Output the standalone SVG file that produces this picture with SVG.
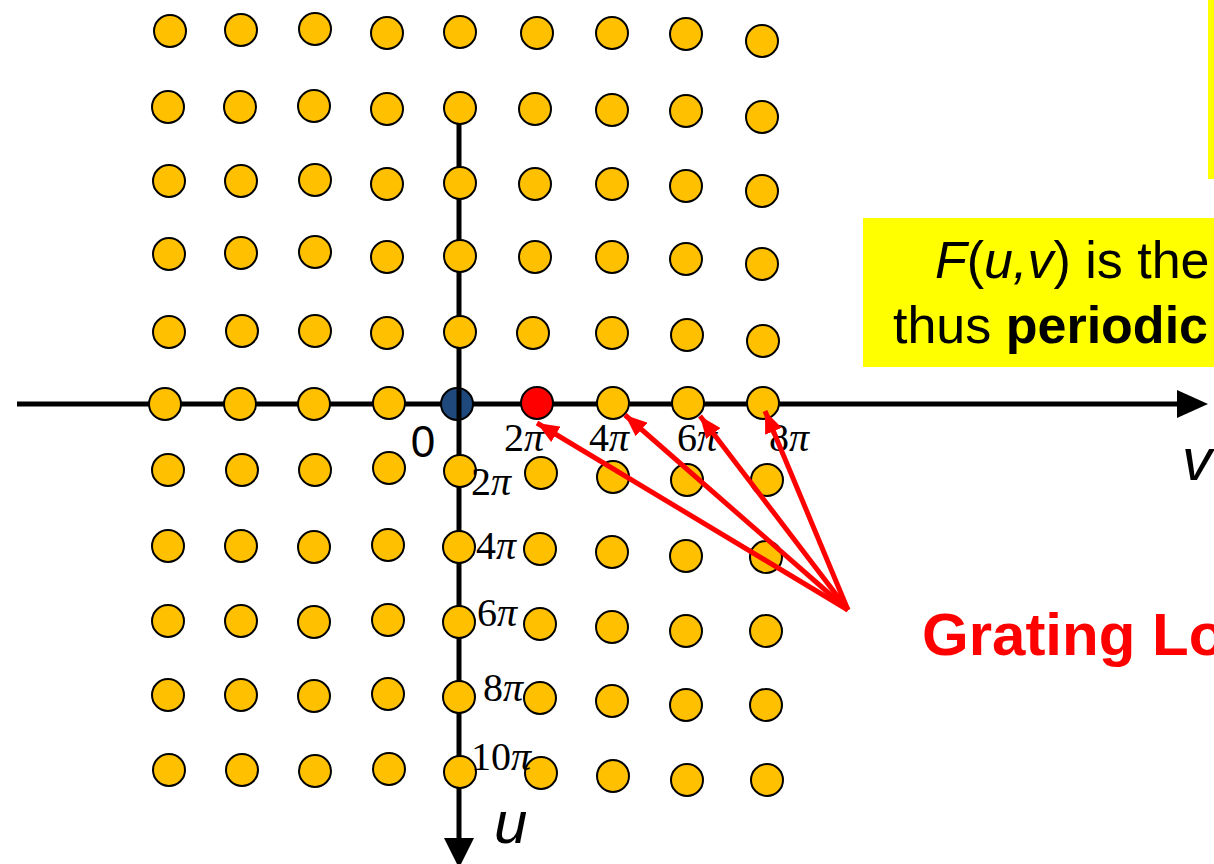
<svg xmlns="http://www.w3.org/2000/svg" width="1214" height="864" viewBox="0 0 1214 864">
<style>
.dot{fill:#FFC000;stroke:#000;stroke-width:2}
.axis{stroke:#000;stroke-width:5;fill:none}
.lbl{font-family:"Liberation Serif",serif;font-size:40px;fill:#000}
.ptr{stroke:#FF0000;stroke-width:5;fill:none}
.sans{font-family:"Liberation Sans",Arial,sans-serif;fill:#000}
</style>
<defs>
<marker id="redhead" markerUnits="userSpaceOnUse" markerWidth="24" markerHeight="18" refX="22" refY="9" orient="auto">
<path d="M0,0 L22,9 L0,18 Z" fill="#FF0000"/>
</marker>
</defs>
<rect width="1214" height="864" fill="#FFFFFF"/>
<g id="note-top"><rect x="1208" y="-5" width="20" height="184" fill="#FFFF00"/></g>
<g id="note-periodic">
<rect x="863" y="218" width="360" height="149" fill="#FFFF00"/>
<text class="sans" x="935" y="278" font-size="52"><tspan font-style="italic">F</tspan>(<tspan font-style="italic">u,v</tspan>) is the</text>
<text class="sans" x="893" y="343" font-size="52">thus <tspan font-weight="bold">periodic</tspan></text>
</g>
<g id="axis-v">
<line class="axis" x1="17" y1="404" x2="1180" y2="404"/>
<path d="M1177,390 L1208,404 L1177,418 Z" fill="#000"/>
</g>
<g id="origin"><circle cx="457" cy="404" r="16" fill="#1F497D" stroke="#000" stroke-width="2"/></g>
<g id="axis-u">
<line class="axis" x1="459" y1="122" x2="459" y2="842"/>
<path d="M444,838 L459,868 L474,838 Z" fill="#000"/>
</g>
<g id="lattice">
<g id="row1">
<circle class="dot" cx="170" cy="31" r="16"/><circle class="dot" cx="241" cy="30" r="16"/><circle class="dot" cx="315" cy="29" r="16"/><circle class="dot" cx="387" cy="33" r="16"/><circle class="dot" cx="460" cy="32" r="16"/><circle class="dot" cx="537" cy="33" r="16"/><circle class="dot" cx="612" cy="33" r="16"/><circle class="dot" cx="686" cy="34" r="16"/><circle class="dot" cx="762" cy="41" r="16"/>
</g>
<g id="row2">
<circle class="dot" cx="168" cy="107" r="16"/><circle class="dot" cx="240" cy="107" r="16"/><circle class="dot" cx="314" cy="106" r="16"/><circle class="dot" cx="387" cy="109" r="16"/><circle class="dot" cx="460" cy="108" r="16"/><circle class="dot" cx="535" cy="109" r="16"/><circle class="dot" cx="612" cy="110" r="16"/><circle class="dot" cx="686" cy="111" r="16"/><circle class="dot" cx="762" cy="117" r="16"/>
</g>
<g id="row3">
<circle class="dot" cx="169" cy="181" r="16"/><circle class="dot" cx="241" cy="181" r="16"/><circle class="dot" cx="315" cy="180" r="16"/><circle class="dot" cx="387" cy="184" r="16"/><circle class="dot" cx="460" cy="183" r="16"/><circle class="dot" cx="535" cy="184" r="16"/><circle class="dot" cx="612" cy="184" r="16"/><circle class="dot" cx="686" cy="186" r="16"/><circle class="dot" cx="762" cy="191" r="16"/>
</g>
<g id="row4">
<circle class="dot" cx="169" cy="254" r="16"/><circle class="dot" cx="241" cy="253" r="16"/><circle class="dot" cx="315" cy="252" r="16"/><circle class="dot" cx="387" cy="257" r="16"/><circle class="dot" cx="460" cy="256" r="16"/><circle class="dot" cx="535" cy="257" r="16"/><circle class="dot" cx="612" cy="257" r="16"/><circle class="dot" cx="686" cy="259" r="16"/><circle class="dot" cx="762" cy="264" r="16"/>
</g>
<g id="row5">
<circle class="dot" cx="169" cy="332" r="16"/><circle class="dot" cx="242" cy="331" r="16"/><circle class="dot" cx="315" cy="331" r="16"/><circle class="dot" cx="387" cy="333" r="16"/><circle class="dot" cx="460" cy="332" r="16"/><circle class="dot" cx="533" cy="333" r="16"/><circle class="dot" cx="612" cy="333" r="16"/><circle class="dot" cx="687" cy="335" r="16"/><circle class="dot" cx="763" cy="341" r="16"/>
</g>
<g id="row-axis">
<circle class="dot" cx="165" cy="404" r="16"/><circle class="dot" cx="240" cy="404" r="16"/><circle class="dot" cx="314" cy="404" r="16"/><circle class="dot" cx="389" cy="403" r="16"/><circle cx="537" cy="403" r="16" fill="#FF0000" stroke="#000" stroke-width="2"/><circle class="dot" cx="613" cy="403" r="16"/><circle class="dot" cx="688" cy="403" r="16"/><circle class="dot" cx="763" cy="403" r="16"/>
</g>
<g id="row7">
<circle class="dot" cx="168" cy="470" r="16"/><circle class="dot" cx="242" cy="470" r="16"/><circle class="dot" cx="315" cy="470" r="16"/><circle class="dot" cx="389" cy="468" r="16"/><circle class="dot" cx="460" cy="471" r="16"/><circle class="dot" cx="541" cy="473" r="16"/><circle class="dot" cx="613" cy="477" r="16"/><circle class="dot" cx="687" cy="480" r="16"/><circle class="dot" cx="767" cy="480" r="16"/>
</g>
<g id="row8">
<circle class="dot" cx="168" cy="546" r="16"/><circle class="dot" cx="241" cy="546" r="16"/><circle class="dot" cx="314" cy="547" r="16"/><circle class="dot" cx="388" cy="545" r="16"/><circle class="dot" cx="459" cy="547" r="16"/><circle class="dot" cx="540" cy="549" r="16"/><circle class="dot" cx="612" cy="552" r="16"/><circle class="dot" cx="686" cy="556" r="16"/><circle class="dot" cx="766" cy="557" r="16"/>
</g>
<g id="row9">
<circle class="dot" cx="168" cy="621" r="16"/><circle class="dot" cx="241" cy="621" r="16"/><circle class="dot" cx="314" cy="622" r="16"/><circle class="dot" cx="388" cy="620" r="16"/><circle class="dot" cx="459" cy="622" r="16"/><circle class="dot" cx="540" cy="624" r="16"/><circle class="dot" cx="612" cy="627" r="16"/><circle class="dot" cx="686" cy="631" r="16"/><circle class="dot" cx="766" cy="631" r="16"/>
</g>
<g id="row10">
<circle class="dot" cx="168" cy="695" r="16"/><circle class="dot" cx="241" cy="695" r="16"/><circle class="dot" cx="314" cy="696" r="16"/><circle class="dot" cx="388" cy="694" r="16"/><circle class="dot" cx="459" cy="697" r="16"/><circle class="dot" cx="540" cy="698" r="16"/><circle class="dot" cx="612" cy="701" r="16"/><circle class="dot" cx="686" cy="705" r="16"/><circle class="dot" cx="766" cy="705" r="16"/>
</g>
<g id="row11">
<circle class="dot" cx="169" cy="770" r="16"/><circle class="dot" cx="242" cy="770" r="16"/><circle class="dot" cx="315" cy="771" r="16"/><circle class="dot" cx="389" cy="769" r="16"/><circle class="dot" cx="460" cy="772" r="16"/><circle class="dot" cx="541" cy="773" r="16"/><circle class="dot" cx="613" cy="776" r="16"/><circle class="dot" cx="687" cy="780" r="16"/><circle class="dot" cx="767" cy="780" r="16"/>
</g>
</g>
<g id="labels">
<text class="sans" x="423" y="457" font-size="44" text-anchor="middle">0</text>
<text class="lbl" x="504" y="451">2<tspan font-style="italic">π</tspan></text>
<text class="lbl" x="589" y="451">4<tspan font-style="italic">π</tspan></text>
<text class="lbl" x="677" y="451">6<tspan font-style="italic">π</tspan></text>
<text class="lbl" x="769" y="451">8<tspan font-style="italic">π</tspan></text>
<text class="lbl" x="471" y="495">2<tspan font-style="italic">π</tspan></text>
<text class="lbl" x="476" y="559">4<tspan font-style="italic">π</tspan></text>
<text class="lbl" x="477" y="626">6<tspan font-style="italic">π</tspan></text>
<text class="lbl" x="483" y="701">8<tspan font-style="italic">π</tspan></text>
<text class="lbl" x="471" y="770">10<tspan font-style="italic">π</tspan></text>
<text class="sans" x="494" y="843" font-size="60" font-style="italic">u</text>
<text class="sans" x="1182" y="480" font-size="60" font-style="italic">v</text>
</g>
<g id="connectors">
<line class="ptr" x1="848" y1="610" x2="537" y2="423" marker-end="url(#redhead)"/>
<line class="ptr" x1="848" y1="610" x2="625" y2="415" marker-end="url(#redhead)"/>
<line class="ptr" x1="848" y1="610" x2="700" y2="416" marker-end="url(#redhead)"/>
<line class="ptr" x1="848" y1="610" x2="765" y2="411" marker-end="url(#redhead)"/>
</g>
<g id="grating-label">
<text x="922" y="655" font-family="'Liberation Sans',Arial,sans-serif" font-size="60" font-weight="bold" fill="#FF0000">Grating Lo</text>
</g>
</svg>
